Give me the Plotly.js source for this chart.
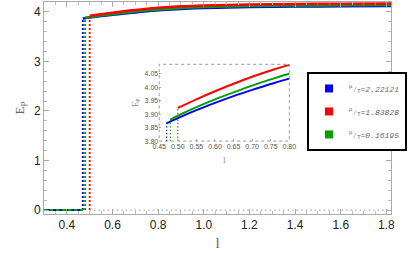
<!DOCTYPE html>
<html><head><meta charset="utf-8">
<script src="https://cdn.plot.ly/plotly-3.0.1.min.js"></script>
<style>html,body{margin:0;padding:0;background:#fff}#c{width:409px;height:253px}</style>
</head><body><div id="c"></div>
<script>
// series data
const lBlue  = [0.47, 0.50, 0.55, 0.60, 0.65, 0.70, 0.75, 0.80, 0.90, 1.00, 1.20, 1.40, 1.60, 1.82];
const eBlue  = [3.866, 3.885, 3.915, 3.942, 3.967, 3.990, 4.012, 4.032, 4.060, 4.078, 4.097, 4.107, 4.113, 4.118];
const lGreen = [0.48, 0.50, 0.55, 0.60, 0.65, 0.70, 0.75, 0.80, 0.90, 1.00, 1.20, 1.40, 1.60, 1.82];
const eGreen = [3.880, 3.894, 3.926, 3.955, 3.981, 4.006, 4.029, 4.050, 4.079, 4.097, 4.117, 4.128, 4.134, 4.139];
const lRed   = [0.50, 0.55, 0.60, 0.65, 0.70, 0.75, 0.80, 0.90, 1.00, 1.20, 1.40, 1.60, 1.82];
const eRed   = [3.923, 3.955, 3.985, 4.013, 4.039, 4.062, 4.083, 4.112, 4.130, 4.150, 4.160, 4.166, 4.170];
const muT    = ["2.22121", "1.83828", "0.16195"];
const colors = ["#0000ff", "#ff0000", "#00a000"];
const lMin = 0.3, lMax = 1.82;

const traces = [];
function addSet(xa, ya, inset) {
  const series = [[lBlue, eBlue, colors[0]], [lGreen, eGreen, colors[2]], [lRed, eRed, colors[1]]];
  const base = inset ? 3.80 : 0;
  for (const [xs, ys, c] of series) {
    traces.push({x: [xs[0], xs[0]], y: [base, ys[0]], mode: 'lines', xaxis: xa, yaxis: ya,
      line: {color: c, dash: inset ? '1.2px,2.2px' : '2px,2px', width: inset ? 1.2 : 1.8}, showlegend: false, hoverinfo: 'skip'});
    traces.push({x: xs, y: ys, mode: 'lines', xaxis: xa, yaxis: ya,
      line: {color: c, width: inset ? 2 : 2.5, shape: 'spline', smoothing: 0.8}, showlegend: false});
  }
}
addSet('x', 'y', false);
// lower branch at zero
traces.push({x: [lMin, lBlue[0]], y: [0, 0], mode: 'lines', line: {color: colors[0], width: 2}, showlegend: false});
traces.push({x: [lMin, lGreen[0]], y: [0, 0], mode: 'lines', line: {color: colors[2], width: 2, dash: '3px,3px'}, showlegend: false});
traces.push({x: [lRed[0], lMax], y: [0, 0], mode: 'lines', line: {color: '#aaaaaa', width: 1.2, dash: '1.5px,3px'}, showlegend: false});
addSet('x2', 'y2', true);
// legend entries
const legColors = [colors[0], colors[1], colors[2]];
for (let i = 0; i < 3; i++) {
  traces.push({x: [null], y: [null], mode: 'markers', marker: {symbol: 'square', size: 8, color: legColors[i]},
    legendgroup: 'g' + i,
    name: '<sup>μ</sup>⁄<sub>T</sub><i>=' + muT[i] + '</i>', showlegend: true});
}

const axFont = {family: 'Liberation Sans, Arial', size: 12, color: '#222'};
const layout = {
  width: 409, height: 253,
  margin: {l: 44, r: 18, t: 2, b: 39},
  paper_bgcolor: '#fff', plot_bgcolor: '#fff',
  showlegend: true,
  legend: {x: 0.758, y: 0.67, xanchor: 'left', yanchor: 'top', bgcolor: '#fff',
    bordercolor: '#000', borderwidth: 2, tracegroupgap: 4, valign: 'middle',
    font: {family: 'Liberation Mono, monospace', size: 8, color: '#666'}},
  xaxis: {range: [lMin, lMax], dtick: 0.2, tick0: 0, tickformat: '.1f', showgrid: false, zeroline: false,
    showline: true, linecolor: '#aaa', linewidth: 1, mirror: 'ticks', ticks: 'inside', ticklen: 5, tickcolor: '#aaa',
    minor: {dtick: 0.05, ticks: 'inside', ticklen: 3, tickcolor: '#bbb'},
    tickfont: axFont,
    title: {text: 'l', font: {family: 'Liberation Serif, serif', size: 15, color: '#666'}, standoff: 6}},
  yaxis: {range: [-0.08, 4.2], dtick: 1, showgrid: false, zeroline: false,
    showline: true, linecolor: '#aaa', linewidth: 1, mirror: 'ticks', ticks: 'inside', ticklen: 5, tickcolor: '#aaa',
    minor: {dtick: 0.2, ticks: 'inside', ticklen: 3, tickcolor: '#bbb'},
    tickfont: axFont,
    title: {text: 'E<sub>P</sub>', font: {family: 'Liberation Serif, serif', size: 13, color: '#666'}, standoff: 6}},
  xaxis2: {domain: [0.332, 0.707], anchor: 'y2', range: [0.45, 0.80], dtick: 0.05, tickformat: '.2f',
    showgrid: false, zeroline: false, showline: false, ticks: 'inside', ticklen: 2, tickcolor: '#aaa',
    tickfont: {family: 'Liberation Sans, Arial', size: 7, color: '#555'},
    title: {text: 'l', font: {family: 'Liberation Serif, serif', size: 8, color: '#888'}, standoff: 8}},
  yaxis2: {domain: [0.344, 0.706], anchor: 'x2', range: [3.80, 4.085], dtick: 0.05, tickformat: '.2f',
    showgrid: false, zeroline: false, showline: false, ticks: 'inside', ticklen: 2, tickcolor: '#aaa',
    tickfont: {family: 'Liberation Sans, Arial', size: 7, color: '#555'},
    title: {text: 'E<sub>P</sub>', font: {family: 'Liberation Serif, serif', size: 8, color: '#888'}, standoff: 4}},
  shapes: [
    {type: 'rect', xref: 'x2 domain', yref: 'y2 domain', x0: 0, x1: 1, y0: 0, y1: 1,
      line: {color: '#999', width: 1, dash: 'dot'}, fillcolor: 'rgba(0,0,0,0)'}
  ]
};
Plotly.newPlot('c', traces, layout, {staticPlot: true});
</script></body></html>
